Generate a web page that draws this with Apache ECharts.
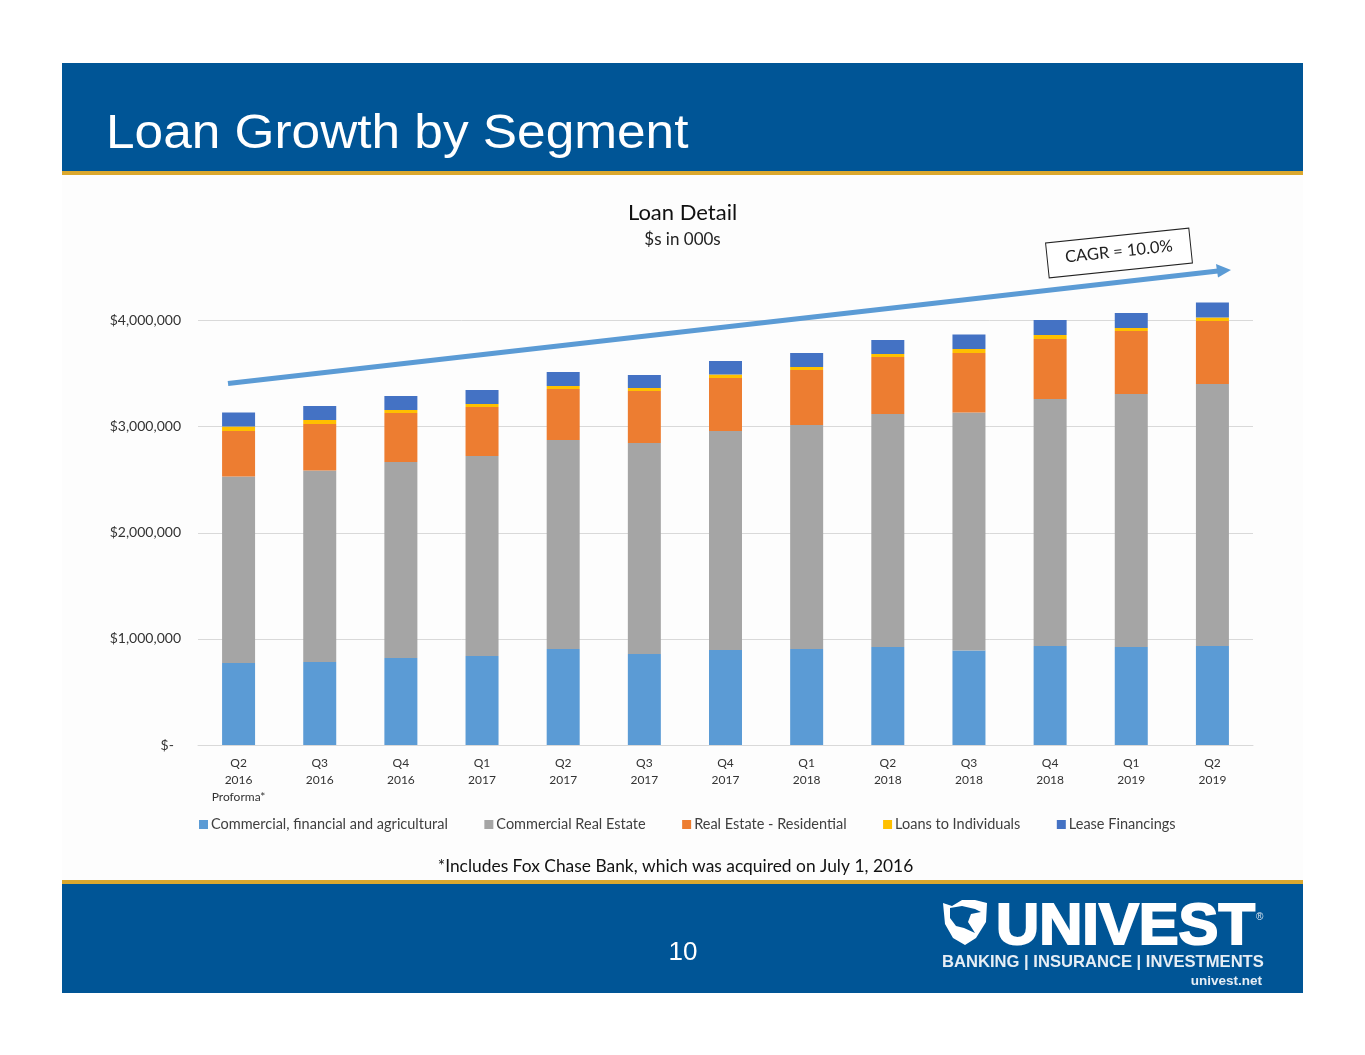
<!DOCTYPE html>
<html><head><meta charset="utf-8">
<style>html,body{margin:0;padding:0;background:#fff}#c{width:1365px;height:1055px}</style>
<script src="https://cdn.jsdelivr.net/npm/echarts@6/dist/echarts.min.js"></script>
</head><body><div id="c"></div>
<script>
var quarters=['Q2\n2016\nProforma*','Q3\n2016','Q4\n2016','Q1\n2017','Q2\n2017','Q3\n2017','Q4\n2017','Q1\n2018','Q2\n2018','Q3\n2018','Q4\n2018','Q1\n2019','Q2\n2019'];
var commercial=[773000,782000,820000,839000,905000,858000,895000,905000,924000,891000,933000,924000,933000];
var commercialRE=[1758000,1805000,1847000,1885000,1970000,1989000,2064000,2111000,2196000,2243000,2328000,2385000,2469000];
var residential=[429000,438000,462000,462000,481000,490000,500000,518000,537000,561000,566000,594000,594000];
var individuals=[42000,38000,28000,28000,28000,28000,33000,28000,28000,38000,38000,28000,33000];
var lease=[132000,132000,132000,132000,132000,123000,127000,132000,132000,137000,141000,141000,141000];
var seriesNames=['Commercial, financial and agricultural','Commercial Real Estate','Real Estate - Residential','Loans to Individuals','Lease Financings'];
var seriesColors=['#5b9bd5','#a5a5a5','#ed7d31','#ffc000','#4472c4'];
var seriesData=[commercial,commercialRE,residential,individuals,lease];
var F='Lato, "Open Sans", sans-serif';
var chart=echarts.init(document.getElementById('c'),null,{renderer:'canvas'});
chart.setOption({
 animation:false,
 backgroundColor:'#ffffff',
 grid:{left:198,right:112,top:214.5,bottom:310,containLabel:false},
 legend:{left:194,top:812,itemWidth:9,itemHeight:9,itemGap:36.5,icon:'rect',
  textStyle:{fontFamily:F,fontSize:14.5,color:'#404040',padding:[0,0,0,-2]},
  data:seriesNames},
 xAxis:{type:'category',data:quarters,
  axisLine:{lineStyle:{color:'#d9d9d9',width:1}},axisTick:{show:false},
  axisLabel:{fontFamily:F,fontSize:12,color:'#333',margin:10,lineHeight:17,interval:0}},
 yAxis:{type:'value',min:0,max:5000000,interval:1000000,
  axisLine:{show:false},axisTick:{show:false},
  splitLine:{show:true,showMaxLine:false,lineStyle:{color:'#d9d9d9',width:1}},
  axisLabel:{showMaxLabel:false,fontFamily:F,fontSize:14,color:'#333',margin:17,
   formatter:function(v){return v===0?'$-  ':'$'+v.toString().replace(/\B(?=(\d{3})+$)/g,',');}}},
 series:seriesNames.map(function(n,i){return {name:n,type:'bar',stack:'loans',barWidth:33,
   itemStyle:{color:seriesColors[i]},data:seriesData[i],z:3};}),
 graphic:[
  {type:'rect',z:-10,silent:true,shape:{x:62,y:63,width:1241,height:930},style:{fill:'#fdfdfd'}},
  {type:'rect',z:-9,silent:true,shape:{x:62,y:63,width:1241,height:109},style:{fill:'#005596'}},
  {type:'rect',z:-9,silent:true,shape:{x:62,y:171,width:1241,height:4},style:{fill:'#dba82e'}},
  {type:'rect',z:-9,silent:true,shape:{x:62,y:884,width:1241,height:109},style:{fill:'#005596'}},
  {type:'rect',z:-9,silent:true,shape:{x:62,y:880,width:1241,height:4},style:{fill:'#dba82e'}},
  {type:'text',z:10,x:106,y:111,scaleX:1.07,style:{x:0,y:0,text:'Loan Growth by Segment',fill:'#fff',font:'48px "Liberation Sans"'}},
  {type:'text',z:10,style:{x:682.5,y:202,text:'Loan Detail',fill:'#111',font:'22px Lato',textAlign:'center'}},
  {type:'text',z:10,style:{x:682.5,y:231,text:'$s in 000s',fill:'#222',font:'17px Lato',textAlign:'center'}},
  {type:'text',z:10,style:{x:675.5,y:858,text:'*Includes Fox Chase Bank, which was acquired on July 1, 2016',fill:'#111',font:'17.4px Lato',textAlign:'center'}},
  {type:'text',z:10,style:{x:683,y:940,text:'10',fill:'#fff',font:'26px "Liberation Sans"',textAlign:'center'}},
  {type:'line',z:10,shape:{x1:228,y1:383.5,x2:1218,y2:271},style:{stroke:'#5b9bd5',lineWidth:5}},
  {type:'polygon',z:10,shape:{points:[[1231,270],[1216,264],[1218,277.5]]},style:{fill:'#5b9bd5'}},
  {type:'group',z:10,x:1119,y:253,rotation:0.104,children:[
    {type:'rect',shape:{x:-72,y:-17.5,width:144,height:35},style:{fill:'#fff',stroke:'#222',lineWidth:1}},
    {type:'text',style:{x:0,y:-10,text:'CAGR = 10.0%',fill:'#222',font:'16.5px Lato',textAlign:'center'}}
  ]},
  {type:'polygon',z:10,shape:{points:[[943,903],[952,906],[962,900],[975,900],[987,903],[986,922],[976,938],[965,945],[953,938],[945,924]]},style:{fill:'#fff'}},
  {type:'polygon',z:10,shape:{points:[[950,908],[962,906],[975,909],[981,912],[971,914],[968,922],[975,933],[964,928],[956,926],[950,918]]},style:{fill:'#005596'}},
  {type:'text',z:10,x:996,y:899,scaleX:1.03,style:{x:0,y:0,text:'UNIVEST',fill:'#fff',stroke:'#fff',lineWidth:2,font:'bold 58px "Liberation Sans"'}},
  {type:'text',z:10,style:{x:1256,y:912,text:'®',fill:'#dfe9f2',font:'10px "Liberation Sans"'}},
  {type:'text',z:10,style:{x:942,y:954,text:'BANKING | INSURANCE | INVESTMENTS',fill:'#e6eef5',font:'bold 16.6px "Liberation Sans"'}},
  {type:'text',z:10,style:{x:1262,y:974,text:'univest.net',fill:'#e6eef5',font:'bold 13.5px "Liberation Sans"',textAlign:'right'}}
 ]
});
</script></body></html>
